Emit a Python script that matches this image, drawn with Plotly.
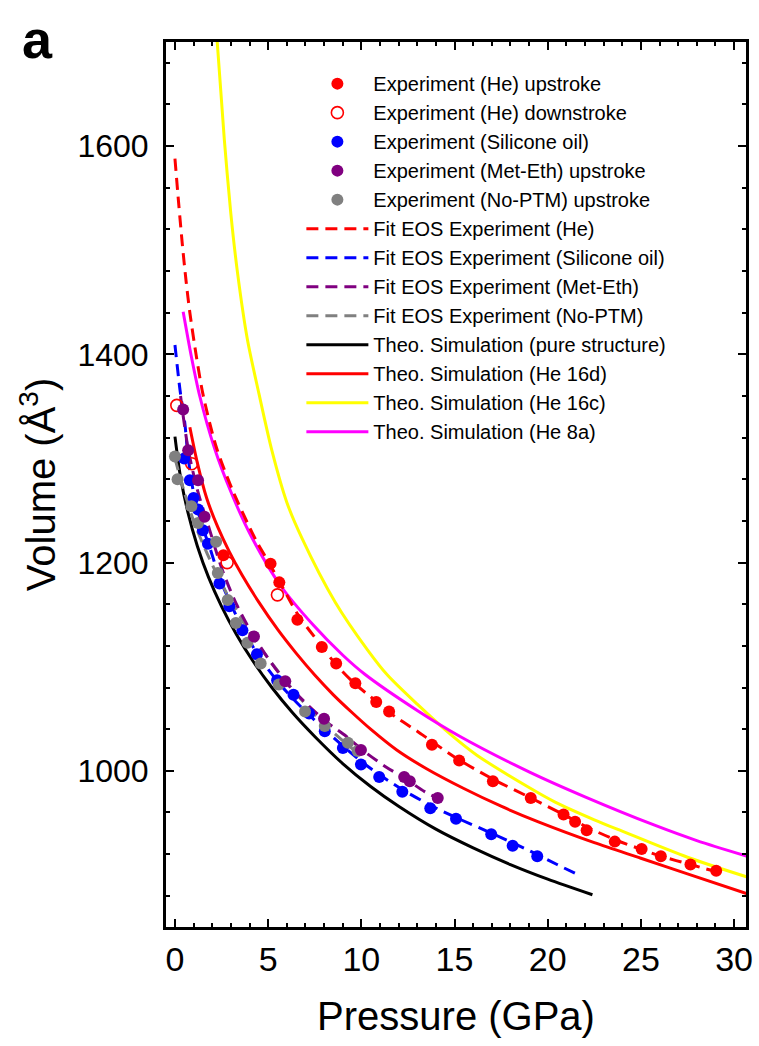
import plotly.graph_objects as go

# ---------------- data ----------------
# Experiment (He) upstroke
he_up_P = [2.6, 5.13, 5.6, 6.57, 7.88, 8.65, 9.68, 10.8, 11.49, 13.79, 15.25, 17.06, 19.09,
           20.85, 21.47, 22.09, 23.6, 25.04, 26.07, 27.66, 29.04]
he_up_V = [1207, 1199, 1181, 1145, 1119, 1103, 1084, 1066, 1057, 1025, 1010, 990, 974,
           958, 951, 943, 932, 925, 918, 910, 904]
# Experiment (He) downstroke
he_down_P = [0.1, 0.9, 2.8, 5.5]
he_down_V = [1351, 1295, 1200, 1169]
# Experiment (Silicone oil)
sil_P = [0.5, 0.8, 1.0, 1.24, 1.5, 1.77, 2.39, 2.92, 3.62, 4.4, 5.48, 6.36, 7.2, 8.04, 9.01,
         9.98, 10.96, 12.2, 13.7, 15.08, 16.97, 18.12, 19.44]
sil_V = [1300, 1279, 1262, 1251, 1231, 1218, 1180, 1158, 1135, 1112, 1087, 1073, 1055, 1038, 1022,
         1006, 994, 980, 964, 954, 939, 928, 918]
# Experiment (Met-Eth) upstroke
met_P = [0.44, 0.71, 1.24, 1.59, 4.24, 5.92, 8.0, 9.98, 12.3, 12.6, 14.1]
met_V = [1347, 1308, 1279, 1244, 1129, 1086, 1050, 1020, 994, 990, 974]
# Experiment (No-PTM) upstroke
nop_P = [0.0, 0.14, 0.88, 1.24, 2.21, 2.3, 2.83, 3.27, 3.89, 4.6, 5.57, 6.98, 8.04, 9.28, 9.8]
nop_V = [1302, 1280, 1254, 1238, 1220, 1190, 1164, 1142, 1123, 1103, 1083, 1057, 1043, 1027, 1019]

# Fit EOS curves
fit_he_P = [0, 0.2, 0.4, 0.6, 0.8, 1.15, 1.5, 2.2, 3.08, 4.33, 5.04, 5.6, 6.6, 7.86, 8.6, 9.63,
            10.85, 11.5, 13.0, 13.8, 15.2, 17.06, 19.09, 20.85, 22.1, 23.6, 25.1, 26.07, 27.66, 29.07]
fit_he_V = [1588, 1545, 1505, 1470, 1440, 1398, 1362, 1312, 1270, 1222, 1200, 1182, 1150, 1120, 1103, 1084,
            1066, 1056, 1038, 1028, 1011, 992, 974, 958, 946, 934, 924, 918, 910, 903]
fit_sil_P = [0, 0.27, 0.53, 0.7, 0.97, 1.41, 1.86, 2.4, 3.0, 3.6, 4.5, 5.5, 6.4, 7.3, 8.0, 9.0,
             10.0, 11.0, 12.2, 13.7, 15.1, 17.0, 18.1, 19.4, 20.5, 21.65]
fit_sil_V = [1409, 1366, 1334, 1302, 1270, 1238, 1215, 1185, 1160, 1138, 1110, 1086, 1068, 1052, 1040, 1024,
             1009, 996, 982, 967, 955, 940, 931, 920, 910, 900]
fit_met_P = [0.3, 0.7, 1.2, 1.8, 2.5, 3.3, 4.2, 5.2, 6.2, 7.2, 8.2, 9.2, 10.2, 11.3, 12.4, 13.4, 14.4]
fit_met_V = [1360, 1310, 1270, 1235, 1195, 1160, 1130, 1103, 1080, 1062, 1046, 1033, 1018, 1004, 992, 980, 971]
fit_nop_P = [0, 0.5, 1.0, 1.5, 2.0, 2.5, 3.0, 3.5, 4.0, 5.0, 6.0, 7.0, 8.0, 9.0, 10.0]
fit_nop_V = [1300, 1268, 1240, 1218, 1198, 1180, 1163, 1148, 1133, 1108, 1085, 1064, 1045, 1029, 1014]

# Theoretical simulations
pure_P = [0, 0.3, 0.7, 1.2, 1.8, 2.5, 3.3, 4.2, 5.2, 6.3, 7.5, 9.0, 10.5, 12.0, 14.0, 16.0, 18.0, 20.0, 22.4]
pure_V = [1321, 1282, 1248, 1216, 1186, 1158, 1131, 1105, 1080, 1056, 1033, 1007, 985, 966, 944, 926, 910, 896, 881]
h16d_P = [0.8, 1.2, 1.7, 2.3, 2.9, 3.6, 4.5, 5.5, 6.5, 7.5, 8.5, 9.5, 10.5, 11.9, 13.5, 15.5, 17.5,
          19.5, 22.5, 25.0, 27.5, 30.7]
h16d_V = [1330, 1296, 1262, 1234, 1211, 1188, 1162, 1136, 1113, 1092, 1073, 1056, 1040, 1020, 1002, 983, 966,
          951, 931, 916, 901, 882]
h16c_P = [2.26, 2.65, 3.0, 3.36, 3.89, 4.51, 5.21, 6.0, 6.8, 8.6, 10.34, 11.4, 13.0, 14.85, 16.2, 19.0,
          20.4, 22.5, 24.0, 27.5, 30.7]
h16c_V = [1702, 1606, 1535, 1478, 1414, 1362, 1307, 1258, 1224, 1162, 1116, 1092, 1064, 1034, 1015, 984,
          970, 953, 942, 917, 898]
h8a_P = [0.44, 0.88, 1.33, 2.12, 3.0, 4.1, 5.66, 7.42, 9.01, 10.17, 13.0, 15.3, 19.0, 22.0, 25.7, 28.0, 30.7]
h8a_V = [1441, 1398, 1360, 1310, 1268, 1225, 1178, 1140, 1111, 1093, 1058, 1033, 999, 975, 948, 933, 918]

x_ticks = [0, 5, 10, 15, 20, 25, 30]
y_ticks = [1000, 1200, 1400, 1600]

# ---------------- figure ----------------
RED, BLUE, PURPLE, GRAY = "#FF0000", "#0000FF", "#800080", "#808080"
MAGENTA, YELLOW, BLACK = "#FF00FF", "#FFFF00", "#000000"
DASH = "12px,7px"

fig = go.Figure()


def add_line(P, V, name, color, dash, rank):
    fig.add_trace(go.Scatter(
        x=P, y=V, mode="lines", name=name, legendrank=rank, legendgroup=name,
        line=dict(color=color, width=3, dash=dash, shape="spline", smoothing=0.8)))


def add_pts(P, V, name, color, rank, symbol="circle"):
    mk = dict(color=color, size=12, symbol=symbol, line=dict(width=0))
    if symbol == "circle-open":
        mk = dict(color=color, size=12, symbol=symbol, line=dict(width=1.6, color=color))
    fig.add_trace(go.Scatter(x=P, y=V, mode="markers", name=name, legendrank=rank,
                             legendgroup=name, marker=mk))


# draw order: simulations, fits, then experiments
add_line(h16c_P, h16c_V, "Theo. Simulation (He 16c)", YELLOW, "solid", 12)
add_line(h8a_P, h8a_V, "Theo. Simulation (He 8a)", MAGENTA, "solid", 13)
add_line(h16d_P, h16d_V, "Theo. Simulation (He 16d)", RED, "solid", 11)
add_line(pure_P, pure_V, "Theo. Simulation (pure structure)", BLACK, "solid", 10)
add_line(fit_he_P, fit_he_V, "Fit EOS Experiment (He)", RED, DASH, 6)
add_line(fit_sil_P, fit_sil_V, "Fit EOS Experiment (Silicone oil)", BLUE, DASH, 7)
add_line(fit_nop_P, fit_nop_V, "Fit EOS Experiment (No-PTM)", GRAY, DASH, 9)
add_line(fit_met_P, fit_met_V, "Fit EOS Experiment (Met-Eth)", PURPLE, DASH, 8)
add_pts(he_up_P, he_up_V, "Experiment (He) upstroke", RED, 1)
add_pts(he_down_P, he_down_V, "Experiment (He) downstroke", RED, 2, "circle-open")
add_pts(sil_P, sil_V, "Experiment (Silicone oil)", BLUE, 3)
add_pts(nop_P, nop_V, "Experiment (No-PTM) upstroke", GRAY, 5)
add_pts(met_P, met_V, "Experiment (Met-Eth) upstroke", PURPLE, 4)

FONT = "Liberation Sans, Arial, sans-serif"
axis_common = dict(
    showline=True, linecolor="black", linewidth=3, mirror="ticks",
    ticks="inside", ticklen=8, tickwidth=2, tickcolor="black",
    showgrid=False, zeroline=False,
)

fig.update_xaxes(
    range=[-0.48, 30.64], tickvals=x_ticks, ticktext=[str(v) for v in x_ticks],
    tickfont=dict(size=34, family=FONT, color="black"),
    minor=dict(dtick=1, ticks="inside", ticklen=4, tickwidth=2, tickcolor="black"),
    title=dict(text="Pressure (GPa)", font=dict(size=40, family=FONT, color="black"), standoff=26),
    **axis_common)
fig.update_yaxes(
    range=[850, 1700], tickvals=y_ticks, ticktext=[str(v) for v in y_ticks],
    tickfont=dict(size=32, family=FONT, color="black"),
    ticklabelstandoff=8,
    minor=dict(dtick=40, ticks="inside", ticklen=4, tickwidth=2, tickcolor="black"),
    title=dict(text="Volume (Å<sup>3</sup>)", font=dict(size=40, family=FONT, color="black"), standoff=10),
    **axis_common)

fig.update_layout(
    width=759, height=1046,
    margin=dict(l=166, r=6, t=42, b=119),
    plot_bgcolor="white", paper_bgcolor="white",
    font=dict(family=FONT, color="black"),
    legend=dict(x=0.2334, y=0.975, xanchor="left", yanchor="top",
                font=dict(size=20, family=FONT, color="black"),
                itemwidth=62, tracegroupgap=0, bgcolor="rgba(0,0,0,0)"),
    annotations=[dict(text="<b>a</b>", xref="paper", yref="paper", x=-0.222, y=1.04,
                      xanchor="center", yanchor="top", showarrow=False,
                      font=dict(size=54, family=FONT, color="black"))],
)

fig.write_html("out.html")
